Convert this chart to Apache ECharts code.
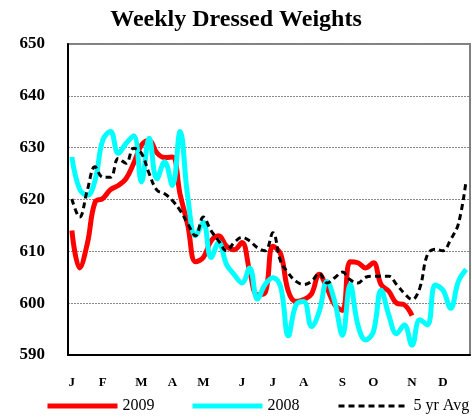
<!DOCTYPE html>
<html>
<head>
<meta charset="utf-8">
<script src="https://cdn.jsdelivr.net/npm/echarts@6/dist/echarts.min.js"></script>
<style>html,body{margin:0;padding:0;background:#fff}#c{width:472px;height:419px}</style>
</head>
<body>
<div id="c"></div>
<script>
const weeks = ['1','2','3','4','5','6','7','8','9','10','11','12','13','14','15','16','17','18','19','20','21','22','23','24','25','26','27','28','29','30','31','32','33','34','35','36','37','38','39','40','41','42','43','44','45','46','47','48','49','50','51','52'];
const monthLabels = ['J','F','M','A','M','J','J','A','S','O','N','D'];
const monthWeekIdx = [0,4,9,13,17,22,26,30,35,39,44,48];
const yTicks = [590,600,610,620,630,640,650];
const seriesNames = ['2009','2008','5 yr Avg'];

const s2009 = [614, 606.8, 611.5, 619.5, 620.2, 621.9, 622.7, 624, 627, 630.5, 631.4, 629, 628.1, 628.2, 621, 615, 608, 608.8, 612, 613, 611, 610.3, 611.7, 606.2, 601.6, 602, 611, 609.5, 602.3, 600.3, 600.7, 601.8, 605.6, 602.9, 599.7, 598.6, 608, 607.8, 606.8, 607.8, 603.6, 602.3, 600, 599.7, 597.6];
const s2008 = [628.2, 622, 620.8, 623.7, 631.5, 633.1, 628.9, 630.8, 632.3, 623.4, 631.8, 624, 627.3, 622.7, 633.1, 620.4, 613, 615.6, 608.8, 611.7, 607.5, 605.5, 603.9, 606.8, 600.8, 603.6, 604.9, 603.2, 593.7, 599.7, 600.3, 595.5, 598.4, 604.2, 600.3, 593.8, 603.6, 595.8, 592.9, 594.5, 602.5, 597.7, 594.1, 595.8, 591.9, 596.8, 595.8, 603.5, 602.5, 599, 604.2, 606.5];
const s5yr = [620.1, 616.6, 621.8, 626.3, 624.3, 624.3, 627.9, 627, 629.9, 628.9, 625, 621.8, 621.1, 619.8, 617.9, 615.3, 613, 616.6, 614, 612, 610.1, 611.7, 612.7, 612, 610.7, 610.1, 613.6, 608.1, 605.8, 604.2, 603.6, 604.2, 605.8, 603.9, 604.9, 606, 604.5, 603.9, 605, 605.2, 605.2, 605.2, 603.6, 601.9, 600.7, 602.9, 609.4, 610.4, 610.1, 612.3, 615.3, 623.7];

const FONT = '"Liberation Serif", "DejaVu Serif", serif';
const legendLefts = [40, 185, 332];
const legendWidths = [5, 5, 3];
const legends = seriesNames.map((n, i) => ({
  left: legendLefts[i], top: 393, itemWidth: 70, itemHeight: 8,
  itemStyle: {opacity: 0},
  lineStyle: {width: legendWidths[i]},
  textStyle: {fontFamily: FONT, fontSize: 16, color: '#000'},
  data: [n]
}));

const chart = echarts.init(document.getElementById('c'));
chart.setOption({
  animation: false,
  backgroundColor: '#fff',
  title: {
    text: 'Weekly Dressed Weights',
    left: 'center', top: 3,
    textStyle: {fontFamily: FONT, fontWeight: 'bold', fontSize: 24, color: '#000'}
  },
  legend: legends,
  grid: {
    left: 68, top: 44, right: 2, bottom: 64,
    show: true, borderColor: '#808080', borderWidth: 2
  },
  xAxis: {
    type: 'category',
    data: weeks,
    boundaryGap: true,
    axisLine: {show: true, lineStyle: {color: '#000', width: 2}},
    axisTick: {show: false},
    splitLine: {show: false},
    axisLabel: {
      interval: function (idx) { return monthWeekIdx.indexOf(idx) >= 0; },
      formatter: function (v, idx) { const k = monthWeekIdx.indexOf(idx); return k >= 0 ? monthLabels[k] : ''; },
      margin: 21,
      fontFamily: FONT, fontWeight: 'bold', fontSize: 13, color: '#000'
    }
  },
  yAxis: {
    type: 'value',
    min: yTicks[0], max: yTicks[yTicks.length - 1], interval: 10,
    axisLine: {show: true, lineStyle: {color: '#000', width: 2}},
    axisTick: {show: false},
    splitLine: {show: true, lineStyle: {color: '#888', width: 1, type: [2, 1]}},
    axisLabel: {margin: 23, fontFamily: FONT, fontWeight: 'bold', fontSize: 17, color: '#000'}
  },
  series: [
    {name: seriesNames[0], type: 'line', data: s2009, smooth: 0.4, symbol: 'none',
     lineStyle: {color: '#ff0000', width: 5}, itemStyle: {color: '#ff0000'}},
    {name: seriesNames[1], type: 'line', data: s2008, smooth: 0.4, symbol: 'none',
     lineStyle: {color: '#00ffff', width: 5}, itemStyle: {color: '#00ffff'}},
    {name: seriesNames[2], type: 'line', data: s5yr, smooth: 0.4, symbol: 'none',
     lineStyle: {color: '#000', width: 3, type: [6, 4]}, itemStyle: {color: '#000'}}
  ]
});
</script>
</body>
</html>
